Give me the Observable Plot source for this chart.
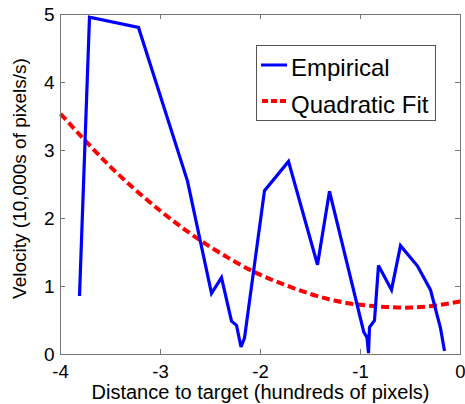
<!DOCTYPE html>
<html>
<head>
<meta charset="utf-8">
<script src="https://cdn.jsdelivr.net/npm/d3@7"></script>
<script src="https://cdn.jsdelivr.net/npm/@observablehq/plot@0.6"></script>
<style>
  html, body { margin: 0; padding: 0; background: #fff; }
  #chart { position: relative; width: 465px; height: 404px; }
  #chart svg { font-family: "Liberation Sans", Arial, Helvetica, sans-serif; }
</style>
</head>
<body>
<div id="chart"></div>
<script>
// Empirical velocity profile (distance in hundreds of pixels, velocity in 10,000s of px/s)
const empiricalX = [-3.81, -3.71, -3.22, -2.73, -2.49, -2.39, -2.29, -2.24, -2.195, -2.16,
                    -1.96, -1.72, -1.43, -1.31, -0.967, -0.935, -0.92, -0.91, -0.86, -0.82,
                    -0.69, -0.60, -0.43, -0.30, -0.20, -0.16];
const empiricalY = [0.86, 4.96, 4.81, 2.55, 0.90, 1.13, 0.49, 0.43, 0.11, 0.24,
                    2.41, 2.84, 1.32, 2.40, 0.33, 0.25, 0.02, 0.40, 0.50, 1.31,
                    0.95, 1.60, 1.30, 0.95, 0.39, 0.05];

// Quadratic fit sampled along the distance axis
const fitX = [-4, -3.75, -3.5, -3.25, -3, -2.75, -2.5, -2.25, -2, -1.75, -1.5, -1.25, -1, -0.75, -0.5, -0.25, 0];
const fitY = [3.54, 3.14, 2.76, 2.42, 2.11, 1.83, 1.58, 1.36, 1.17, 1.02, 0.89, 0.79, 0.73, 0.70, 0.69, 0.72, 0.78];

// Axis ticks
const xTicks = [-4, -3, -2, -1, 0];
const yTicks = [0, 1, 2, 3, 4, 5];

const seriesNames = ["Empirical", "Quadratic Fit"];
const xTitle = "Distance to target (hundreds of pixels)";
const yTitle = "Velocity (10,000s of pixels/s)";

const empirical = empiricalX.map((x, i) => ({x, y: empiricalY[i]}));
const fit = fitX.map((x, i) => ({x, y: fitY[i]}));

const frameColor = "#777";
const W = 465, H = 404;
const mL = 60, mR = 5, mT = 14, mB = 50;
const innerW = W - mL - mR, innerH = H - mT - mB;
const tickLen = 5;

const chart = Plot.plot({
  width: W,
  height: H,
  marginLeft: mL,
  marginRight: mR,
  marginTop: mT,
  marginBottom: mB,
  style: {fontFamily: "'Liberation Sans', Arial, Helvetica, sans-serif", background: "#fff", overflow: "visible"},
  x: {domain: [-4, 0]},
  y: {domain: [0, 5]},
  marks: [
    Plot.line(fit, {x: "x", y: "y", stroke: "#ff0000", strokeWidth: 4, strokeDasharray: "8,4",
                    strokeLinecap: "butt", curve: "natural"}),
    Plot.line(empirical, {x: "x", y: "y", stroke: "#0000ff", strokeWidth: 3.2,
                          strokeLinejoin: "miter", strokeMiterlimit: 3, strokeLinecap: "butt"}),
    Plot.frame({stroke: frameColor, strokeWidth: 1}),
    // inward ticks on all four sides
    Plot.ruleX(xTicks, {x: d => d, insetTop: innerH - tickLen, stroke: frameColor}),
    Plot.ruleX(xTicks, {x: d => d, insetBottom: innerH - tickLen, stroke: frameColor}),
    Plot.ruleY(yTicks, {y: d => d, insetRight: innerW - tickLen, stroke: frameColor}),
    Plot.ruleY(yTicks, {y: d => d, insetLeft: innerW - tickLen, stroke: frameColor}),
    Plot.axisX(xTicks, {tickSize: 0, tickPadding: 10, fontSize: 18.5, tickFormat: d => String(d), label: null, fill: "#000"}),
    Plot.axisY(yTicks, {tickSize: 0, tickPadding: 6, fontSize: 19, tickFormat: d => String(d), label: null, fill: "#000"}),
    Plot.text([xTitle], {frameAnchor: "bottom", text: d => d, dy: 38.5, textAnchor: "middle", lineAnchor: "middle", fontSize: 20, fill: "#000"}),
    Plot.text([yTitle], {frameAnchor: "left", text: d => d, dx: -41, dy: -6, rotate: -90, textAnchor: "middle", lineAnchor: "middle", fontSize: 19, fill: "#000"})
  ]
});

document.getElementById("chart").appendChild(chart);

// Legend box in the upper right of the axes
const svg = d3.select(chart);
const lg = svg.append("g")
  .attr("font-family", "'Liberation Sans', Arial, Helvetica, sans-serif")
  .attr("text-anchor", "start");
lg.append("rect").attr("x", 256.5).attr("y", 45.5).attr("width", 179).attr("height", 75)
  .attr("fill", "#fff").attr("stroke", "#555").attr("stroke-width", 1);
lg.append("line").attr("x1", 261).attr("x2", 287).attr("y1", 65).attr("y2", 65)
  .attr("stroke", "#0000ff").attr("stroke-width", 3);
lg.append("text").attr("x", 291).attr("y", 76).attr("font-size", 24).attr("fill", "#000")
  .attr("text-anchor", "start").text(seriesNames[0]);
lg.append("line").attr("x1", 262).attr("x2", 287).attr("y1", 101).attr("y2", 101)
  .attr("stroke", "#ff0000").attr("stroke-width", 4).attr("stroke-dasharray", "6,3");
lg.append("text").attr("x", 291).attr("y", 112.5).attr("font-size", 24).attr("fill", "#000")
  .attr("text-anchor", "start").text(seriesNames[1]);
</script>
</body>
</html>
